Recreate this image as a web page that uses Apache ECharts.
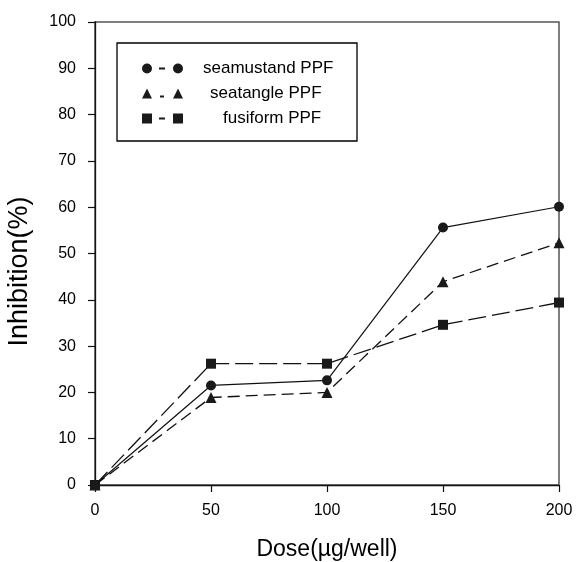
<!DOCTYPE html>
<html>
<head>
<meta charset="utf-8">
<script src="https://cdn.jsdelivr.net/npm/echarts@6/dist/echarts.min.js"></script>
<style>
  html, body { margin: 0; padding: 0; background: #fff; }
  #chart { width: 576px; height: 562px; }
</style>
</head>
<body>
<div id="chart"></div>
<script>
// values
var doses = [0, 50, 100, 150, 200];
var seamustand = [0, 21.5, 22.6, 55.6, 60.1];
var seatangle = [0, 18.9, 20.0, 43.9, 52.3];
var fusiform = [0, 26.2, 26.2, 34.6, 39.4];
var names = ['seamustand PPF', 'seatangle PPF', 'fusiform PPF'];

var FONT = '"Liberation Sans", Arial, Helvetica, sans-serif';

function pairs(vals) {
  return doses.map(function (d, i) { return [d, vals[i]]; });
}

// legend icons: symbol - dash - symbol
var iconCircle = 'path://M0,5a5,5 0 1,0 10,0a5,5 0 1,0 -10,0Z M17,4h6v2h-6Z M31,5a5,5 0 1,0 10,0a5,5 0 1,0 -10,0Z';
var iconTri = 'path://M0,10L5,0L10,10Z M18,7h4v2h-4Z M31,10L36,0L41,10Z';
var iconSq = 'path://M0,0h10v10h-10Z M17,4h6v2h-6Z M31,0h10v10h-10Z';

var chart = echarts.init(document.getElementById('chart'), null, { renderer: 'canvas' });

var option = {
  backgroundColor: '#fff',
  animation: false,
  textStyle: { fontFamily: FONT },
  grid: {
    left: 95, right: 17, top: 22, bottom: 77,
    outerBoundsMode: 'none', containLabel: false,
    show: true, borderColor: '#555', borderWidth: 1.5, backgroundColor: 'transparent'
  },
  legend: {
    left: 142, top: 60,
    orient: 'vertical',
    selectedMode: false,
    itemWidth: 41, itemHeight: 10,
    itemGap: 8,
    padding: 0,
    textStyle: {
      fontSize: 17, color: '#000', fontFamily: FONT,
      rich: {
        a: { fontSize: 17, fontFamily: FONT, padding: [0, 0, 0, 15] },
        b: { fontSize: 17, fontFamily: FONT, padding: [0, 0, 0, 22] },
        c: { fontSize: 17, fontFamily: FONT, padding: [0, 0, 0, 35] }
      }
    },
    formatter: function (n) {
      var k = n === names[0] ? 'a' : (n === names[1] ? 'b' : 'c');
      return '{' + k + '|' + n + '}';
    },
    data: [
      { name: names[0], icon: iconCircle },
      { name: names[1], icon: iconTri },
      { name: names[2], icon: iconSq }
    ]
  },
  graphic: [{
    type: 'rect',
    shape: { x: 117, y: 43, width: 240, height: 98 },
    style: { fill: 'none', stroke: '#000', lineWidth: 1.3 },
    z: 10
  }],
  xAxis: {
    type: 'value', min: 0, max: 200, interval: 50,
    name: 'Dose(\u00b5g/well)', nameLocation: 'middle', nameGap: 53,
    nameTextStyle: { fontSize: 23, color: '#000', fontFamily: FONT },
    axisLine: { lineStyle: { color: '#111', width: 1.3 } },
    axisTick: { show: true, inside: false, length: 7, lineStyle: { color: '#111', width: 1.2 } },
    axisLabel: { fontSize: 16, color: '#000', margin: 18, fontFamily: FONT },
    splitLine: { show: false }
  },
  yAxis: {
    type: 'value', min: 0, max: 100, interval: 10,
    name: 'Inhibition(%)', nameLocation: 'middle', nameGap: 62,
    nameTextStyle: { fontSize: 27, color: '#000', fontFamily: FONT, padding: [0, 36, 0, 0] },
    axisLine: { lineStyle: { color: '#111', width: 1.3 } },
    axisTick: { show: true, inside: false, length: 7, lineStyle: { color: '#111', width: 1.2 } },
    axisLabel: { fontSize: 16, color: '#000', margin: 19, fontFamily: FONT },
    splitLine: { show: false }
  },
  series: [
    {
      name: names[0], type: 'line', data: pairs(seamustand),
      symbol: 'circle', symbolSize: 10,
      itemStyle: { color: '#1a1a1a' },
      lineStyle: { color: '#111', width: 1.2, type: 'solid' },
      z: 4
    },
    {
      name: names[1], type: 'line', data: pairs(seatangle),
      symbol: 'triangle', symbolSize: 11,
      itemStyle: { color: '#1a1a1a' },
      lineStyle: { color: '#111', width: 1.3, type: [12, 6] },
      z: 3
    },
    {
      name: names[2], type: 'line', data: pairs(fusiform),
      symbol: 'rect', symbolSize: 10,
      itemStyle: { color: '#1a1a1a' },
      lineStyle: { color: '#111', width: 1.3, type: [18, 6] },
      z: 2
    }
  ]
};

chart.setOption(option);
</script>
</body>
</html>
